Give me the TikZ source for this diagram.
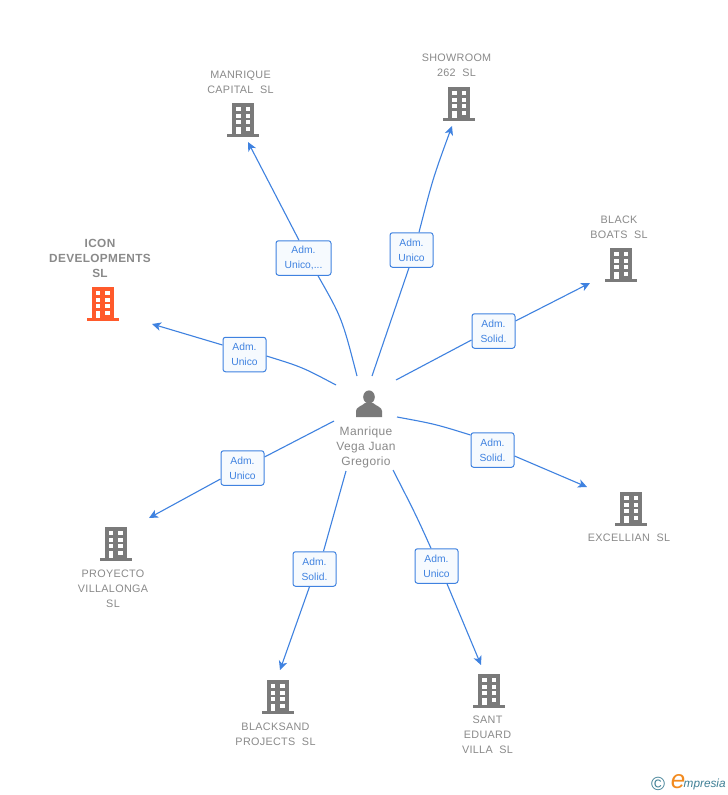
\documentclass[tikz,border=0pt]{standalone}
\usepackage{fontspec}
\setmainfont{Liberation Sans}
\newfontfamily\spaced[LetterSpace=3]{Liberation Sans}
\newfontfamily\spacedbold[LetterSpace=3,UprightFont={* Bold}]{Liberation Sans}
\usetikzlibrary{arrows.meta,calc}
\definecolor{linkblue}{HTML}{3F82E0}
\definecolor{boxfill}{HTML}{F6FAFE}
\definecolor{icongray}{HTML}{7A7A7A}
\definecolor{textgray}{HTML}{8A8A8A}
\definecolor{iconorange}{HTML}{FF5A2B}
\definecolor{logoteal}{HTML}{3F7F95}
\definecolor{logoorange}{HTML}{F28A1E}
\tikzset{
  x=1pt,y=-1pt,
  rolebox/.style={draw=linkblue,line width=1pt,fill=boxfill,rounded corners=2.5pt,minimum height=34.5pt,inner sep=0pt,align=center,text=linkblue,font=\fontsize{10.3}{15}\selectfont},
  company/.style={text=textgray,align=center,inner sep=0pt,font=\spaced\fontsize{10.8}{15}\selectfont},
  link/.style={draw=linkblue,line width=1.1pt},
  arrowlink/.style={link,-{Stealth[length=9pt,width=8.5pt,inset=2.5pt]}},
  pics/building/.style={code={
    \fill[#1] (-11,-17) rectangle (11,15);
    \fill[#1] (-16,14) rectangle (16,17);
    \foreach \yy in {-13,-6,0,7}{
      \fill[white] (-7,\yy) rectangle (-2.5,\yy+4);
      \fill[white] (2.5,\yy) rectangle (7,\yy+4);
    }
    \fill[white] (-7,7) rectangle (-2.5,14);
  }}
}
\begin{document}
\begin{tikzpicture}
\useasboundingbox (0,0) rectangle (728,795);
\fill[white] (0,0) rectangle (728,795);

% person
\fill[icongray] (369,397) ellipse (5.8 and 6.6);
\fill[icongray] (356,417) -- (356,411) .. controls (356,407) and (362,406) .. (365,403) -- (373,403) .. controls (376,406) and (382,407) .. (382,411) -- (382,417) -- cycle;
\node[text=textgray,align=center,inner sep=0pt,font=\spaced\fontsize{12}{15}\selectfont] (person) at (366,447.5) {Manrique\\Vega Juan\\Gregorio};

% role boxes
\node[rolebox,minimum width=43pt] (r1) at (244.5,354.5) {Adm.\\Unico};
\node[rolebox,minimum width=55pt] (r2) at (303.5,258) {Adm.\\Unico,...};
\node[rolebox,minimum width=43pt] (r3) at (411.5,250) {Adm.\\Unico};
\node[rolebox,minimum width=43pt] (r4) at (493.5,331) {Adm.\\Solid.};
\node[rolebox,minimum width=43pt] (r5) at (492.5,450) {Adm.\\Solid.};
\node[rolebox,minimum width=43pt] (r6) at (436.5,566) {Adm.\\Unico};
\node[rolebox,minimum width=43pt] (r7) at (314.5,569) {Adm.\\Solid.};
\node[rolebox,minimum width=43pt] (r8) at (242.5,468) {Adm.\\Unico};

% connector ends
\coordinate (s1) at (336,385); \coordinate (e1) at (152,324);
\coordinate (s2) at (357,376); \coordinate (e2) at (248,142);
\coordinate (s3) at (372,376); \coordinate (e3) at (452,126);
\coordinate (s4) at (396,380); \coordinate (e4) at (590,283);
\coordinate (s5) at (397,417); \coordinate (e5) at (587,487);
\coordinate (s6) at (393,470); \coordinate (e6) at (481,665);
\coordinate (s7) at (346,471); \coordinate (e7) at (280,670);
\coordinate (s8) at (334,421); \coordinate (e8) at (149,518);

\draw[link] (s1) .. controls (302,367) .. ($(r1.east)+(0,1.5)$);
\draw[arrowlink] ($(r1.west)+(0,-9.5)$) -- (e1);
\draw[link] (s2) .. controls (342,318) .. ($(r2.south)+(14.5,0)$);
\draw[arrowlink] ($(r2.north)+(-4.5,0)$) -- (e2);
\draw[link] (s3) -- ($(r3.south)+(-2.5,0)$);
\draw[arrowlink] ($(r3.north)+(7.5,0)$) .. controls (433,178) .. (e3);
\draw[link] (s4) -- ($(r4.west)+(0,9)$);
\draw[arrowlink] ($(r4.east)+(0,-10)$) -- (e4);
\draw[link] (s5) .. controls (435,424) .. ($(r5.west)+(0,-15)$);
\draw[arrowlink] ($(r5.east)+(0,6)$) -- (e5);
\draw[link] (s6) .. controls (416,515) .. ($(r6.north)+(-5.5,0)$);
\draw[arrowlink] ($(r6.south)+(10.5,0)$) -- (e6);
\draw[link] (s7) .. controls (335,512) .. ($(r7.north)+(9,0)$);
\draw[arrowlink] ($(r7.south)+(-5,0)$) -- (e7);
\draw[link] (s8) -- ($(r8.east)+(0,-11)$);
\draw[arrowlink] ($(r8.west)+(0,11)$) -- (e8);

% companies
\pic at (102.5,304) {building=iconorange};
\node[company,font=\spacedbold\fontsize{11.8}{15}\selectfont] (c1) at (100,258) {ICON\\DEVELOPMENTS\\SL};
\pic at (243,120) {building=icongray};
\node[company] (c2) at (240.5,82) {MANRIQUE\\CAPITAL\ \ SL};
\pic at (459,103.5) {building=icongray};
\node[company] (c3) at (456.5,65) {SHOWROOM\\262\ \ SL};
\pic at (621,265) {building=icongray};
\node[company] (c4) at (619,227) {BLACK\\BOATS\ \ SL};
\pic at (631,509) {building=icongray};
\node[company] (c5) at (629,538) {EXCELLIAN\ \ SL};
\pic at (489,691) {building=icongray};
\node[company] (c6) at (487.5,735) {SANT\\EDUARD\\VILLA\ \ SL};
\pic at (277.5,697) {building=icongray};
\node[company] (c7) at (275.5,734) {BLACKSAND\\PROJECTS\ \ SL};
\pic at (115.5,544) {building=icongray};
\node[company] (c8) at (113,589) {PROYECTO\\VILLALONGA\\SL};

% logo
\node[text=logoteal,inner sep=0pt,font=\fontsize{19}{19}\selectfont] (copy) at (658,783.5) {©};
\node[text=logoorange,inner sep=0pt,font=\itshape\fontsize{26}{26}\selectfont] (logoe) at (678,782) {e};
\node[text=logoteal,inner sep=0pt,anchor=west,font=\itshape\fontsize{11.8}{12}\selectfont] (logot) at (683.5,784.5) {mpresia};
\end{tikzpicture}
\end{document}
